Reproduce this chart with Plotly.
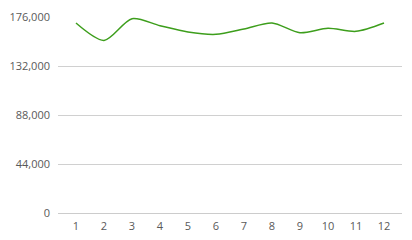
import plotly.graph_objects as go

categories = ["1", "2", "3", "4", "5", "6", "7", "8", "9", "10", "11", "12"]
values = [170600, 155000, 174500, 168200, 162500, 160400, 165200, 170600, 161900, 165800, 163100, 170600]
y_ticks = [0, 44000, 88000, 132000, 176000]

fig = go.Figure()
fig.add_trace(go.Scatter(
    x=categories, y=values, mode="lines",
    line=dict(color="#3d9e1c", width=1.5, shape="spline", smoothing=0.8),
    hoverinfo="skip",
))
fig.update_layout(
    width=412, height=240,
    margin=dict(l=58, r=10, t=17, b=27),
    paper_bgcolor="white", plot_bgcolor="white",
    showlegend=False,
    font=dict(family="Open Sans, DejaVu Sans, sans-serif", size=11, color="#595959"),
)
fig.update_xaxes(
    type="category", showgrid=False, showline=True, linecolor="#cccccc", linewidth=1,
    ticks="", ticklabelstandoff=3, automargin=False,
    tickfont=dict(size=11, color="#595959"), range=[-0.643, 11.643],
)
fig.update_yaxes(
    range=[0, 176000], tickvals=y_ticks, tickformat=",d",
    showgrid=True, gridcolor="#d0d0d0", gridwidth=1, zeroline=False, showline=False,
    ticks="", ticklabelstandoff=7, automargin=False, tickfont=dict(size=11, color="#595959"),
)
fig.write_html("out.html")
